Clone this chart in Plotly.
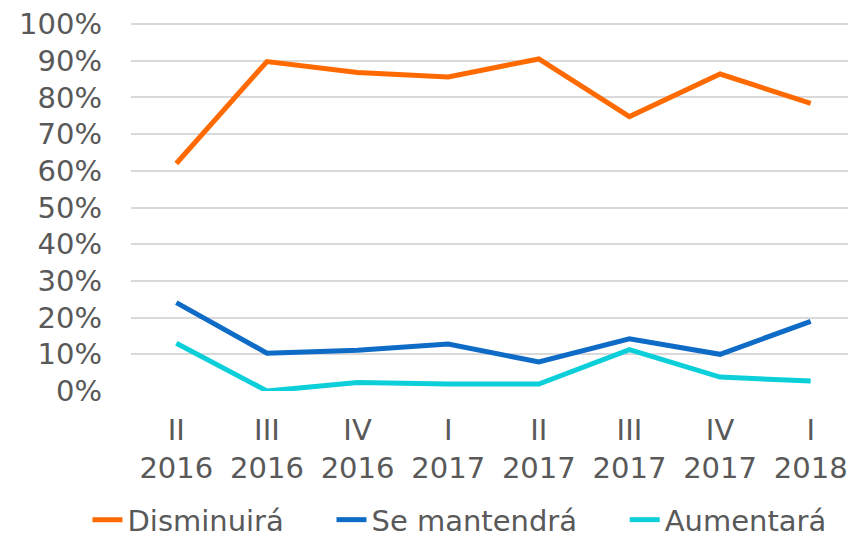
import plotly.graph_objects as go

quarters = ["II", "III", "IV", "I", "II", "III", "IV", "I"]
years = ["2016", "2016", "2016", "2017", "2017", "2017", "2017", "2018"]

disminuira = [62.0, 89.8, 86.8, 85.6, 90.5, 74.8, 86.4, 78.4]
se_mantendra = [24.1, 10.3, 11.1, 12.8, 7.9, 14.2, 10.0, 19.0]
aumentara = [13.0, 0.0, 2.3, 1.9, 1.9, 11.3, 3.8, 2.7]

categories = [f"{q}<br>{y}" for q, y in zip(quarters, years)]

FONT = "DejaVu Sans"
TEXT = "#595959"
PAD = "\u00a0" * 4 + "\u2009"  # widen gaps between legend entries

series = [
    ("Disminuirá" + PAD, disminuira, "#FF6A00"),
    ("Se mantendrá" + PAD, se_mantendra, "#0F6CC6"),
    ("Aumentará", aumentara, "#0CCFD9"),
]

fig = go.Figure()
for name, vals, color in series:
    fig.add_trace(
        go.Scatter(
            x=list(range(len(categories))),
            y=[v / 100 for v in vals],
            name=name,
            mode="lines",
            line=dict(color=color, width=5),
        )
    )

# page body has an 8px margin, so the figure is 8px smaller than the window
fig.update_layout(
    width=848,
    height=529,
    margin=dict(l=123, r=0, t=15, b=146, autoexpand=False),
    plot_bgcolor="white",
    paper_bgcolor="white",
    font=dict(family=FONT, size=29, color=TEXT),
    showlegend=True,
    legend=dict(
        orientation="h",
        x=-0.06,
        xanchor="left",
        y=-0.35,
        yanchor="middle",
        font=dict(family=FONT, size=29, color=TEXT),
        itemwidth=30,
    ),
)

fig.update_xaxes(
    tickmode="array",
    tickvals=list(range(len(categories))),
    ticktext=categories,
    range=[-0.5, len(categories) - 0.5],
    automargin=False,
    showgrid=False,
    zeroline=False,
    showline=False,
    ticks="",
    ticklabelstandoff=19,
    tickfont=dict(family=FONT, size=29, color=TEXT),
)

fig.update_yaxes(
    range=[0, 1.003],
    tickvals=[i / 10 for i in range(11)],
    tickformat=".0%",
    automargin=False,
    ticklabeloverflow="allow",
    showgrid=True,
    gridcolor="#D9D9D9",
    gridwidth=2,
    zeroline=False,
    showline=False,
    ticks="",
    ticklabelstandoff=28,
    tickfont=dict(family=FONT, size=29, color=TEXT),
)

fig.write_html("out.html")
